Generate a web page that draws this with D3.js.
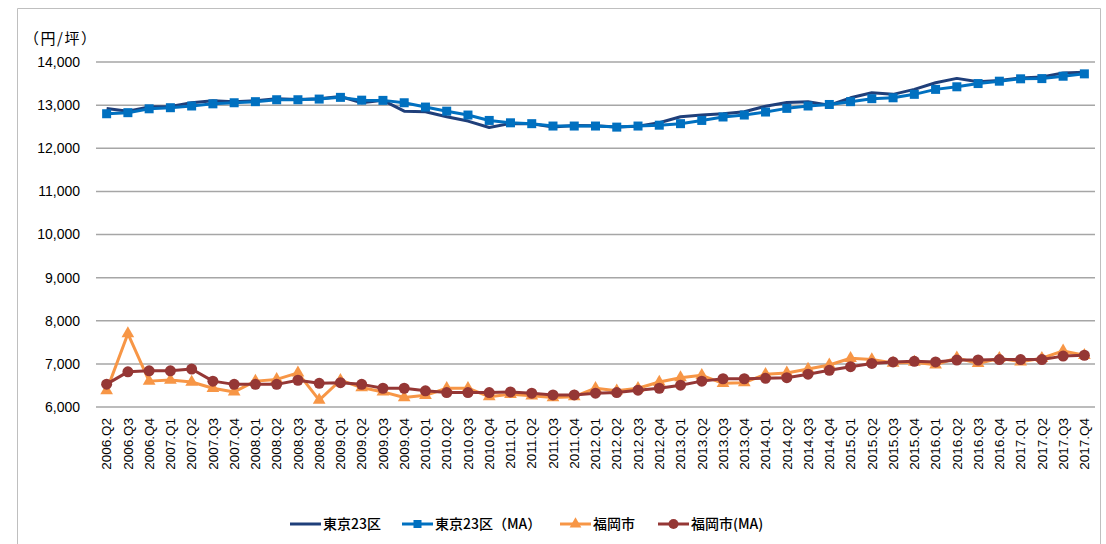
<!DOCTYPE html>
<html><head><meta charset="utf-8">
<script src="https://cdn.jsdelivr.net/npm/d3@7"></script>
<style>body{margin:0;background:#fff}svg{display:block}</style>
</head><body>
<svg id="c" width="1106" height="544"></svg>
<script>
const quarters = ["2006.Q2","2006.Q3","2006.Q4","2007.Q1","2007.Q2","2007.Q3","2007.Q4","2008.Q1","2008.Q2","2008.Q3","2008.Q4","2009.Q1","2009.Q2","2009.Q3","2009.Q4","2010.Q1","2010.Q2","2010.Q3","2010.Q4","2011.Q1","2011.Q2","2011.Q3","2011.Q4","2012.Q1","2012.Q2","2012.Q3","2012.Q4","2013.Q1","2013.Q2","2013.Q3","2013.Q4","2014.Q1","2014.Q2","2014.Q3","2014.Q4","2015.Q1","2015.Q2","2015.Q3","2015.Q4","2016.Q1","2016.Q2","2016.Q3","2016.Q4","2017.Q1","2017.Q2","2017.Q3","2017.Q4"];
const tokyo = [12920,12860,12960,12970,13055,13100,13080,13100,13150,13130,13150,13200,13055,13110,12860,12845,12730,12630,12480,12575,12570,12490,12525,12520,12495,12510,12590,12730,12770,12800,12845,12975,13060,13080,13000,13170,13285,13250,13365,13520,13620,13540,13570,13630,13655,13745,13760];
const tokyoMA = [12800,12825,12915,12940,12980,13030,13055,13080,13125,13125,13140,13180,13115,13110,13055,12955,12860,12770,12645,12590,12570,12515,12515,12515,12490,12515,12535,12570,12645,12725,12770,12840,12925,12980,13015,13080,13150,13170,13250,13365,13425,13500,13555,13610,13615,13670,13725];
const fukuoka = [6380,7700,6600,6625,6580,6435,6350,6600,6640,6790,6160,6620,6450,6350,6220,6270,6435,6435,6240,6295,6260,6220,6240,6435,6375,6435,6580,6680,6735,6550,6565,6760,6790,6880,6975,7130,7100,7020,7040,6980,7140,7010,7130,7050,7130,7300,7200];
const fukuokaMA = [6530,6815,6840,6840,6880,6600,6525,6525,6525,6620,6550,6565,6525,6435,6435,6375,6335,6335,6335,6350,6320,6280,6280,6320,6335,6390,6435,6505,6600,6655,6655,6665,6680,6760,6850,6935,7010,7045,7060,7045,7090,7090,7100,7100,7100,7180,7200];
const yTicks = [6000,7000,8000,9000,10000,11000,12000,13000,14000];
const seriesNames = ["東京23区","東京23区（MA）","福岡市","福岡市(MA)"];

const svg = d3.select("#c");
const L = 96, R = 1095, T = 62, B = 407;
const x = d3.scaleBand().domain(quarters).range([L, R]);
const y = d3.scaleLinear().domain([6000, 14000]).range([B, T]);
const cx = d => x(d) + x.bandwidth() / 2;

// outer border
svg.append("path").attr("d","M17.5,600 V8.5 H1100.5 V600").attr("fill","none").attr("stroke","#BFBFBF").attr("stroke-width",1);

// gridlines
svg.append("g").selectAll("line").data(yTicks).join("line")
  .attr("x1", L).attr("x2", R).attr("y1", d => y(d)).attr("y2", d => y(d))
  .attr("stroke", "#A6A6A6").attr("stroke-width", 1.5);

// y axis
const yAxis = svg.append("g").attr("transform", `translate(${L},0)`)
  .call(d3.axisLeft(y).tickValues(yTicks).tickFormat(d3.format(",")).tickSize(0).tickPadding(16));
yAxis.select(".domain").remove();
yAxis.selectAll("text").attr("font-family", "Liberation Sans, Arial, sans-serif").attr("font-size", 14).attr("fill", "#000");

svg.append("text").attr("x", 24).attr("y", 44).text("（円/坪）")
  .attr("font-family", "Noto Sans CJK JP, sans-serif").attr("font-size", 15).attr("letter-spacing", 1.5).attr("fill", "#000");

// x axis
const xAxis = svg.append("g").attr("transform", `translate(0,${B})`)
  .call(d3.axisBottom(x).tickSize(0).tickPadding(0));
xAxis.select(".domain").remove();
xAxis.selectAll("text")
  .attr("font-family", "Liberation Sans, Arial, sans-serif").attr("font-size", 13.5).attr("fill", "#000")
  .attr("text-anchor", "end")
  .attr("transform","rotate(-90)").attr("x",-11).attr("y",0).attr("dx",0).attr("dy","0.35em");

const line = vals => d3.line().x((d,i) => cx(quarters[i])).y(d => y(d))(vals);

const colors = {tokyo:"#1F3F7A", tokyoMA:"#0070C0", fuk:"#F79646", fukMA:"#953735"};

// Tokyo raw
svg.append("path").attr("d", line(tokyo)).attr("fill","none").attr("stroke",colors.tokyo).attr("stroke-width",3).attr("stroke-linejoin","round");
// Tokyo MA
svg.append("path").attr("d", line(tokyoMA)).attr("fill","none").attr("stroke",colors.tokyoMA).attr("stroke-width",3).attr("stroke-linejoin","round");
svg.append("g").selectAll("rect").data(tokyoMA).join("rect")
  .attr("x",(d,i)=>cx(quarters[i])-4.5).attr("y",d=>y(d)-4.5).attr("width",9).attr("height",9).attr("fill",colors.tokyoMA);
// Fukuoka raw
svg.append("path").attr("d", line(fukuoka)).attr("fill","none").attr("stroke",colors.fuk).attr("stroke-width",3).attr("stroke-linejoin","round");
const tri = d3.symbol().type(d3.symbolTriangle).size(70);
svg.append("g").selectAll("path").data(fukuoka).join("path")
  .attr("d", tri).attr("transform",(d,i)=>`translate(${cx(quarters[i])},${y(d)})`).attr("fill",colors.fuk);
// Fukuoka MA
svg.append("path").attr("d", line(fukuokaMA)).attr("fill","none").attr("stroke",colors.fukMA).attr("stroke-width",3).attr("stroke-linejoin","round");
svg.append("g").selectAll("circle").data(fukuokaMA).join("circle")
  .attr("cx",(d,i)=>cx(quarters[i])).attr("cy",d=>y(d)).attr("r",5.5).attr("fill",colors.fukMA);

// legend
const lg = svg.append("g");
const items = [
  {x:290, c:colors.tokyo, m:null},
  {x:402, c:colors.tokyoMA, m:"sq"},
  {x:560, c:colors.fuk, m:"tri"},
  {x:658, c:colors.fukMA, m:"ci"}
];
const ly = 524;
items.forEach((it, k) => {
  lg.append("line").attr("x1", it.x).attr("x2", it.x + 31).attr("y1", ly).attr("y2", ly).attr("stroke", it.c).attr("stroke-width", 3);
  const mx = it.x + 15.5;
  if (it.m === "sq") lg.append("rect").attr("x", mx-4).attr("y", ly-4).attr("width", 8).attr("height", 8).attr("fill", it.c);
  if (it.m === "tri") lg.append("path").attr("d", d3.symbol().type(d3.symbolTriangle).size(60)()).attr("transform", `translate(${mx},${ly})`).attr("fill", it.c);
  if (it.m === "ci") lg.append("circle").attr("cx", mx).attr("cy", ly).attr("r", 5).attr("fill", it.c);
  lg.append("text").attr("x", it.x + 33).attr("y", ly + 5).text(seriesNames[k])
    .attr("font-family", "Noto Sans CJK JP, sans-serif").attr("font-size", 14).attr("font-weight", 500).attr("fill", "#000");
});
</script>
</body></html>
